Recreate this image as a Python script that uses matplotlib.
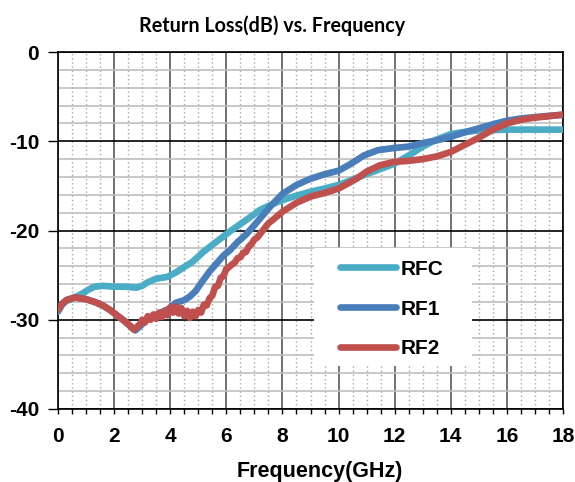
import matplotlib
matplotlib.use("Agg")
import matplotlib.pyplot as plt
from matplotlib.patches import Rectangle
from matplotlib.ticker import MultipleLocator

plt.rcParams["axes.unicode_minus"] = False

# Return loss traces (frequency in GHz, loss in dB)
rfc_f = [0, 0.15, 0.3, 0.6, 0.9, 1.1, 1.3, 1.6, 2.0, 2.4, 2.8, 3.0, 3.2, 3.5, 3.9,
         4.2, 4.5, 4.8, 5.18, 5.65, 6.13, 6.72, 7.2, 7.6, 8.0, 8.5, 9.0, 9.5, 10.0,
         10.5, 10.9, 11.5, 12.0, 12.5, 13.0, 13.5, 14.0, 14.5, 15.0, 16.0, 17.0, 18.0]
rfc_db = [-29.1, -28.3, -27.9, -27.5, -27.0, -26.6, -26.3, -26.2, -26.3, -26.3, -26.4,
          -26.2, -25.8, -25.4, -25.2, -24.7, -24.1, -23.5, -22.4, -21.25, -20.1, -18.8,
          -17.7, -17.1, -16.6, -16.1, -15.65, -15.3, -14.9, -14.3, -13.8, -13.1, -12.5,
          -11.6, -10.6, -9.8, -9.2, -8.95, -8.8, -8.7, -8.7, -8.7]

rf1_f = [0, 0.15, 0.3, 0.6, 1.0, 1.3, 1.6, 1.85, 2.1, 2.35, 2.6, 2.75, 2.9, 3.2, 3.6,
         4.0, 4.2, 4.5, 4.7, 4.9, 5.1, 5.4, 5.65, 5.9, 6.13, 6.4, 6.72, 7.0, 7.3, 7.6,
         8.0, 8.5, 9.0, 9.5, 10.0, 10.4, 10.9, 11.4, 12.0, 12.5, 13.0, 13.5, 14.0,
         14.5, 15.0, 15.5, 16.0, 16.5, 17.0, 17.5, 18.0]
rf1_db = [-29.0, -28.2, -27.8, -27.5, -27.7, -28.0, -28.4, -28.9, -29.5, -30.1, -30.8,
          -31.2, -30.8, -29.9, -29.3, -28.7, -28.1, -27.8, -27.4, -26.8, -25.9, -24.6,
          -23.7, -22.8, -22.2, -21.3, -20.4, -19.4, -18.3, -17.2, -15.9, -14.9, -14.2,
          -13.7, -13.3, -12.6, -11.6, -11.0, -10.75, -10.6, -10.2, -9.9, -9.5, -9.0,
          -8.55, -8.1, -7.7, -7.45, -7.3, -7.15, -7.05]

rf2_f = [0, 0.15, 0.3, 0.6, 1.0, 1.3, 1.6, 1.85, 2.1, 2.35, 2.55, 2.7, 2.85, 2.9,
         3.0, 3.1, 3.2, 3.3, 3.4, 3.5, 3.6, 3.7, 3.8, 3.9, 4.0, 4.1, 4.2, 4.3, 4.4,
         4.5, 4.6, 4.7, 4.8, 4.9, 5.0, 5.1, 5.2, 5.3, 5.4, 5.5, 5.6, 5.7, 5.8, 5.9,
         6.0, 6.1, 6.2, 6.3, 6.4, 6.5, 6.6, 6.7, 6.8, 6.9, 7.0, 7.1, 7.2, 7.3, 7.4,
         7.5, 7.7, 8.0, 8.5, 9.0, 9.5, 10.0, 10.3, 10.64, 11.0, 11.47, 12.0, 12.5,
         13.0, 13.5, 14.0, 14.5, 15.0, 15.5, 16.0, 16.5, 17.0, 17.5, 18.0]
rf2_db = [-28.9, -28.2, -27.8, -27.5, -27.7, -28.0, -28.4, -28.9, -29.5, -30.1, -30.6,
          -31.1, -30.7, -30.6, -30.0, -30.3, -29.6, -30.0, -29.4, -29.9, -29.2, -29.7,
          -29.0, -29.5, -28.6, -29.2, -28.5, -29.3, -28.7, -29.6, -29.0, -29.8, -29.1,
          -29.6, -28.9, -29.2, -28.3, -28.4, -27.6, -27.3, -26.3, -26.2, -25.3, -25.1,
          -24.3, -24.1, -23.8, -23.6, -23.1, -23.0, -22.5, -22.4, -21.8, -21.5, -21.0,
          -20.8, -20.4, -20.0, -19.6, -19.2, -18.7, -17.9, -16.9, -16.2, -15.8, -15.3,
          -14.8, -14.2, -13.4, -12.7, -12.3, -12.2, -12.0, -11.7, -11.2, -10.4, -9.6,
          -8.7, -8.0, -7.6, -7.35, -7.2, -7.0]

series = [("RFC", rfc_f, rfc_db, "#4BACC6"),
          ("RF1", rf1_f, rf1_db, "#4A7EBB"),
          ("RF2", rf2_f, rf2_db, "#C0504D")]

fig = plt.figure(figsize=(5.75, 4.82), dpi=100)
ax = fig.add_axes([58 / 575, 73 / 482, 505 / 575, 357 / 482])

for name, f, db, col in series:
    ax.plot(f, db, color=col, lw=4.8, label=name, solid_capstyle="round", zorder=4)

ax.set_xlim(0, 18)
ax.set_ylim(-40, 0)
ax.xaxis.set_major_locator(MultipleLocator(2))
ax.xaxis.set_minor_locator(MultipleLocator(0.5))
ax.yaxis.set_major_locator(MultipleLocator(10))
ax.yaxis.set_minor_locator(MultipleLocator(2))

ax.grid(which="minor", axis="x", color="#A6A6A6", lw=1.0, ls=(0, (1, 2)))
ax.grid(which="minor", axis="y", color="#BFBFBF", lw=1.2)
ax.grid(which="major", axis="x", color="#595959", lw=1.2)
ax.grid(which="major", axis="y", color="black", lw=1.2)
ax.set_axisbelow(True)

for s in ax.spines.values():
    s.set_color("black")
    s.set_linewidth(1.2)

tick_font = {"family": "Liberation Sans", "weight": "bold", "size": 15}
ax.tick_params(axis="x", which="both", direction="out", length=3.6, width=1, pad=9)
ax.tick_params(axis="y", which="major", direction="out", length=7.5, width=1, pad=6)
ax.tick_params(axis="y", which="minor", length=0)
for lab in ax.get_xticklabels() + ax.get_yticklabels():
    lab.set_fontproperties(tick_font)

fig.text(272 / 575, 1 - 26 / 482, "Return Loss(dB) vs. Frequency", ha="center",
         va="center", fontfamily="Lato", fontweight="bold", fontsize=14.2)
fig.text(320 / 575, 1 - 471 / 482, "Frequency(GHz)", ha="center", va="center",
         fontfamily="Liberation Sans", fontweight="bold", fontsize=15.5)

# white legend box
ax.add_patch(Rectangle((0.507, 0.12), 0.313, 0.33, transform=ax.transAxes,
                       facecolor="white", edgecolor="none", zorder=5))
leg = ax.legend(loc="upper left", bbox_to_anchor=(0.558, 0.418), frameon=False,
                borderpad=0, borderaxespad=0, handlelength=2.7, handletextpad=0.2,
                labelspacing=1.0, prop={"family": "Liberation Sans", "weight": "bold",
                                        "size": 15})
leg.set_zorder(6)

fig.savefig("out.png", dpi=100)
